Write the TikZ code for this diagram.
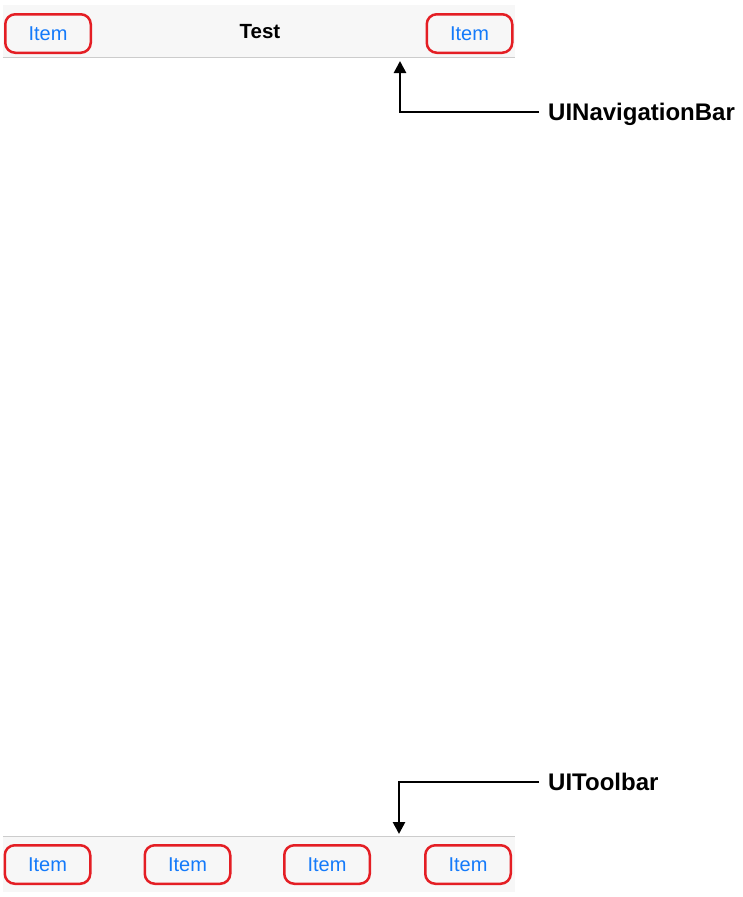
\documentclass[tikz,border=0pt]{standalone}
\usepackage{xcolor}
\usepackage{fontspec}
\setmainfont{Liberation Sans}
\usepackage{tikz}
\usetikzlibrary{positioning,arrows.meta,calc}

\definecolor{itemred}{RGB}{228,30,36}
\definecolor{itemblue}{RGB}{20,122,250}
\definecolor{barbg}{RGB}{247,247,247}
\definecolor{barline}{RGB}{204,204,204}

\tikzset{
  bar/.style={fill=barbg, draw=none, inner sep=0pt, minimum width=512pt, minimum height=52pt},
  item/.style={draw=itemred, line width=2.5pt, rounded corners=10pt, minimum width=85.5pt,
    minimum height=38.5pt, inner sep=0pt, text=itemblue, font=\fontsize{20}{20}\selectfont},
  barlabel/.style={anchor=west, inner xsep=9pt, inner ysep=0pt, text height=16pt, text depth=0pt,
    font=\fontsize{24}{24}\selectfont\bfseries},
  pointer/.style={line width=2.6pt, -{Triangle[length=12pt,width=12pt]}}
}

\begin{document}
\begin{tikzpicture}[x=1pt,y=-1pt]
\useasboundingbox (0,0) rectangle (742,897);

% Navigation bar
\node[bar] (navbar) at (259,31) {};
\draw[barline, line width=1pt] (navbar.south west) -- (navbar.south east);
\node[item] (navleft) at (48,33.5) {Item};
\node[item] (navright) at (469.5,33.5) {Item};
\node[font=\fontsize{20.5}{21}\selectfont\bfseries] (title) at (260,32) {Test};

% Toolbar
\node[bar, minimum height=55pt] (toolbar) at (259,864.5) {};
\draw[barline, line width=1pt] (toolbar.north west) -- (toolbar.north east);
\node[item] (tbone) at (47.5,864.5) {Item};
\node[item] (tbtwo) at (187.5,864.5) {Item};
\node[item] (tbthree) at (327,864.5) {Item};
\node[item] (tbfour) at (468,864.5) {Item};

% Labels
\node[barlabel] (navlabel) at (539,112) {UINavigationBar};
\node[barlabel] (tblabel) at (539,782) {UIToolbar};

% Pointers
\coordinate (navtip) at (400,61);
\coordinate (tbtip) at (399,834);
\draw[pointer] (navlabel.west) -| (navtip);
\draw[pointer] (tblabel.west) -| (tbtip);
\end{tikzpicture}
\end{document}
